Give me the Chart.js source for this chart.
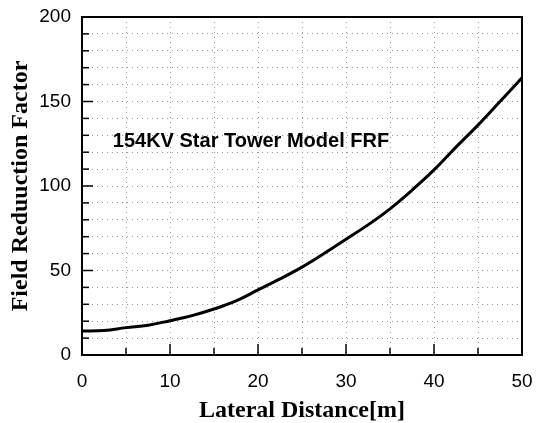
<!DOCTYPE html>
<html>
<head>
<meta charset="utf-8">
<script src="https://cdn.jsdelivr.net/npm/chart.js@4/dist/chart.umd.min.js"></script>
<style>
  body{margin:0;background:#fff;}
  #wrap{width:541px;height:423px;}
</style>
</head>
<body>
<div id="wrap"><canvas id="chart" width="541" height="423"></canvas></div>
<script>
// data
const distance = [0, 2.5, 5, 7.5, 10, 12.5, 15, 17.5, 20, 22.5, 25, 27.5, 30, 32.5, 35, 37.5, 40, 42.5, 45, 47.5, 50];
const frf = [14.2, 14.5, 16.2, 17.6, 20.3, 23.3, 27.2, 32, 38.5, 45, 52, 60, 68.5, 77, 86.5, 97.5, 109.5, 123, 136, 150, 164];
const xTicks = [0, 10, 20, 30, 40, 50];
const yTicks = [0, 50, 100, 150, 200];
const noteText = '154KV Star Tower Model FRF';
const notePos = {x: 3.5, y: 123};

const sans = '"Liberation Sans", Arial, sans-serif';
const serif = '"Liberation Serif", "Times New Roman", serif';

// frame, inward ticks and the text note
const framePlugin = {
  id: 'frame',
  afterDraw(chart){
    const {ctx, chartArea:a, scales:{x, y}} = chart;
    ctx.save();
    ctx.strokeStyle = '#000';
    // inward ticks
    ctx.lineWidth = 1.5;
    for(let v=5; v<50; v+=5){
      const px = x.getPixelForValue(v), len = v%10===0 ? 11 : 7;
      ctx.beginPath(); ctx.moveTo(px, a.bottom); ctx.lineTo(px, a.bottom-len); ctx.stroke();
    }
    for(let v=10; v<200; v+=10){
      const py = y.getPixelForValue(v), len = v%50===0 ? 11 : 7;
      ctx.beginPath(); ctx.moveTo(a.left, py); ctx.lineTo(a.left+len, py); ctx.stroke();
    }
    ctx.lineWidth = 2;
    ctx.strokeRect(a.left, a.top, a.right-a.left, a.bottom-a.top);
    // note
    ctx.fillStyle = '#000';
    ctx.font = 'bold 20px ' + sans;
    ctx.textBaseline = 'alphabetic';
    ctx.fillText(noteText, x.getPixelForValue(notePos.x), y.getPixelForValue(notePos.y));
    ctx.restore();
  }
};

const gridStyle = {color:'#999', lineWidth:1, drawTicks:false};

new Chart(document.getElementById('chart'), {
  type:'line',
  data:{
    datasets:[{
      data: distance.map((d,i)=>({x:d, y:frf[i]})),
      borderColor:'#000', borderWidth:3, pointRadius:0, tension:0.4, fill:false
    }]
  },
  options:{
    responsive:false, animation:false,
    layout:{padding:{top:17, right:19, left:0, bottom:0}},
    plugins:{legend:{display:false}, tooltip:{enabled:false}},
    scales:{
      x:{
        type:'linear', min:0, max:50,
        afterFit(s){ s.height = 68; s.paddingLeft = 0; s.paddingRight = 0; },
        grid: gridStyle,
        border:{display:false, dash:[1,4]},
        ticks:{stepSize:5, padding:15, color:'#000', font:{family:sans, size:19},
          maxRotation:0, autoSkip:false,
          callback:v=> xTicks.includes(v) ? v : ''},
        title:{display:true, text:'Lateral Distance[m]', color:'#000',
          font:{family:serif, size:24, weight:'bold', lineHeight:1}, padding:{top:0, bottom:0}}
      },
      y:{
        min:0, max:200,
        afterFit(s){ s.width = 82; s.paddingTop = 0; s.paddingBottom = 0; },
        grid: gridStyle,
        border:{display:false, dash:[1,4]},
        ticks:{stepSize:10, padding:11, color:'#000', font:{family:sans, size:19},
          autoSkip:false,
          callback:v=> yTicks.includes(v) ? v : ''},
        title:{display:true, text:'Field Reduuction Factor', color:'#000',
          font:{family:serif, size:24, weight:'bold', lineHeight:1}, padding:{top:9, bottom:0}}
      }
    }
  },
  plugins:[framePlugin]
});
</script>
</body>
</html>
